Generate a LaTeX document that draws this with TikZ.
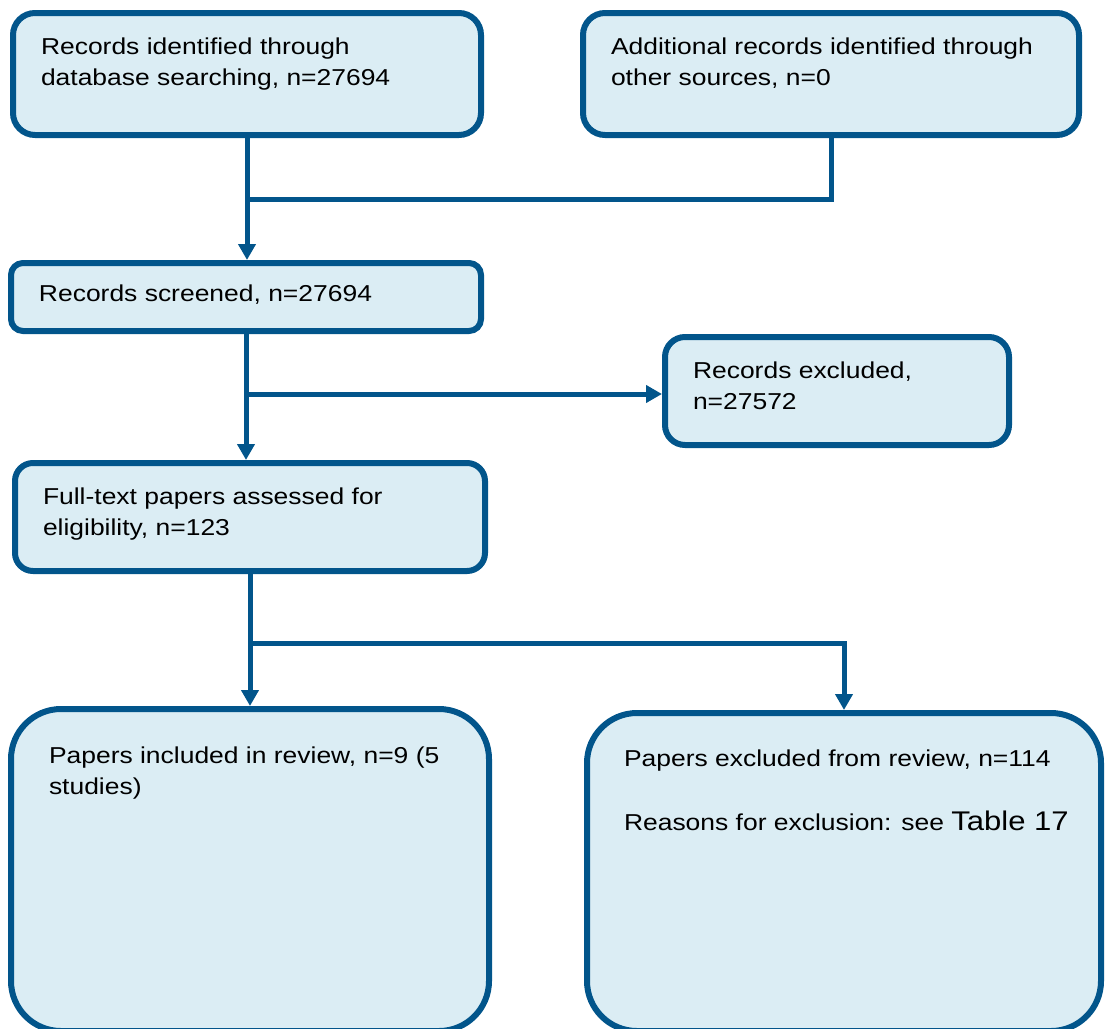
\documentclass[tikz,border=0pt]{standalone}
\usepackage{fontspec}
\setmainfont{Liberation Sans}[FakeStretch=1.15]
\usetikzlibrary{arrows.meta}

\definecolor{boxline}{RGB}{2,85,139}
\definecolor{boxfill}{RGB}{219,237,244}

\newcommand{\boxtext}[3]{\parbox[t][#2][t]{#1}{\raggedright #3}}

\begin{document}
\begin{tikzpicture}[x=0.5pt,y=-0.5pt]

  \useasboundingbox (0,0) rectangle (1107,1028);

  \begin{scope}[every node/.style={draw=boxline,fill=boxfill,line width=3pt,
      anchor=north west,outer sep=0pt,inner xsep=14pt,inner ysep=12.5pt,
      font=\fontsize{11.5}{15.25}\selectfont}]
    \node[rounded corners=11pt] (A) at (13,13)
      {\boxtext{206pt}{36pt}{Records identified through\\database searching, n=27694}};
    \node[rounded corners=11pt] (B) at (583,13)
      {\boxtext{220pt}{36pt}{Additional records identified through\\other sources, n=0}};
    \node[rounded corners=6pt,inner ysep=11pt] (C) at (11,263)
      {\boxtext{207pt}{12pt}{Records screened, n=27694}};
    \node[rounded corners=10pt] (E) at (665,337)
      {\boxtext{144pt}{29pt}{Records excluded,\\n=27572}};
    \node[rounded corners=9pt] (D) at (15,463)
      {\boxtext{207pt}{29pt}{Full-text papers assessed for\\eligibility, n=123}};
    \node[rounded corners=25pt,inner xsep=19pt,inner ysep=19pt] (F) at (11,709)
      {\boxtext{201pt}{123pt}{Papers included in review, n=9 (5\\studies)}};
    \node[rounded corners=25pt,inner xsep=18.5pt,inner ysep=18.5pt] (G) at (587,713)
      {\boxtext{220pt}{122pt}{Papers excluded from review, n=114\\[16.5pt]%
        \mbox{Reasons for exclusion: see {\fontsize{13.5}{15.25}\selectfont Table 17}}}};
  \end{scope}

  \coordinate (join1) at (A.south |- 0,199);
  \coordinate (join2) at (C.south |- 0,394);
  \coordinate (join3) at (D.south |- 0,643);

  \begin{scope}[draw=boxline,line width=2.5pt,
      every path/.style={draw=boxline},
      arrow/.style={-{Triangle[width=8.5pt,length=8pt]},shorten >=1.5pt}]
    \draw[arrow] (A.south) -- (A.south |- C.north);
    \draw (B.south) |- (join1);
    \draw[arrow] (C.south) -- (C.south |- D.north);
    \draw[arrow] (join2) -- (join2 -| E.west);
    \draw[arrow] (D.south) -- (D.south |- F.north);
    \draw[arrow] (join3) -| (G.north);
  \end{scope}

\end{tikzpicture}
\end{document}
